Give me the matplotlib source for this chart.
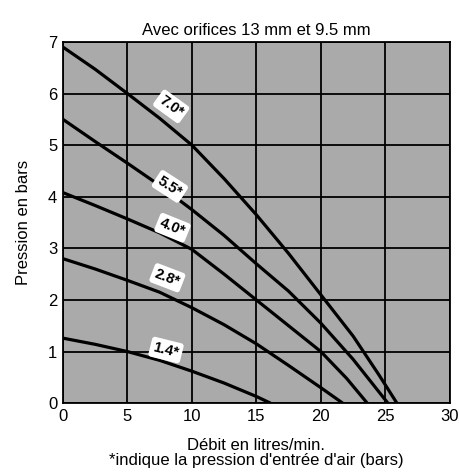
import matplotlib
matplotlib.use("Agg")
import matplotlib.pyplot as plt

plt.rcParams['font.family'] = ['Liberation Sans Narrow', 'Liberation Sans', 'DejaVu Sans']

# pressure curves: (flow l/min, pressure bar)
x_70 = [0, 2.5, 5, 7.5, 10, 12.5, 15, 17.5, 20, 22.5, 24.5, 25.9]
y_70 = [6.9, 6.47, 6.0, 5.52, 5.0, 4.35, 3.65, 2.9, 2.1, 1.3, 0.55, 0]

x_55 = [0, 2.5, 5, 7.5, 10, 12.5, 15, 17.5, 20, 22.5, 25.2]
y_55 = [5.5, 5.07, 4.65, 4.22, 3.75, 3.25, 2.7, 2.17, 1.55, 0.85, 0]

x_40 = [0, 2.5, 5, 7.5, 10, 12.5, 15, 17.5, 20, 22, 23.6]
y_40 = [4.08, 3.83, 3.57, 3.3, 2.98, 2.5, 2.0, 1.5, 1.0, 0.48, 0]

x_28 = [0, 2.5, 5, 7.5, 10, 12.5, 15, 17.5, 20, 21.7]
y_28 = [2.8, 2.6, 2.38, 2.15, 1.85, 1.52, 1.15, 0.73, 0.3, 0]

x_14 = [0, 2.5, 5, 7.5, 10, 12.5, 15, 16.1]
y_14 = [1.26, 1.14, 1.0, 0.83, 0.62, 0.39, 0.13, 0]

labels = ['7.0*', '5.5*', '4.0*', '2.8*', '1.4*']
label_x = [8.4, 8.3, 8.5, 8.1, 8.0]
label_y = [5.75, 4.2, 3.4, 2.43, 1.03]
label_rot = [-36, -33, -22, -21, -14]

fig = plt.figure(figsize=(4.59, 4.76), dpi=100)
ax = fig.add_axes([0.137, 0.153, 0.843, 0.759])
ax.set_facecolor('#aaaaaa')

for xs, ys in [(x_70, y_70), (x_55, y_55), (x_40, y_40), (x_28, y_28), (x_14, y_14)]:
    ax.plot(xs, ys, color='black', lw=2.3, solid_capstyle='butt', zorder=3)

for t, lx, ly, r in zip(labels, label_x, label_y, label_rot):
    ax.text(lx, ly, t, rotation=r, ha='center', va='center', fontsize=10.5,
            fontweight='bold', color='black', zorder=4,
            bbox=dict(boxstyle='round,pad=0.22,rounding_size=0.2', fc='white', ec='none'))

ax.set_xlim(0, 30)
ax.set_ylim(0, 7)
ax.set_xticks(range(0, 31, 5))
ax.set_yticks(range(0, 8))
ax.grid(True, color='black', lw=1.3)
ax.set_axisbelow(True)
for s in ax.spines.values():
    s.set_linewidth(1.3)
ax.tick_params(length=0, labelsize=12, pad=4)

ax.set_title('Avec orifices 13 mm et 9.5 mm', fontsize=12, pad=5)
ax.set_ylabel('Pression en bars', fontsize=12, labelpad=12)
ax.set_xlabel("Débit en litres/min.\n*indique la pression d'entrée d'air (bars)",
              fontsize=12, labelpad=10, linespacing=1.05)

fig.savefig('out.png', dpi=100)
